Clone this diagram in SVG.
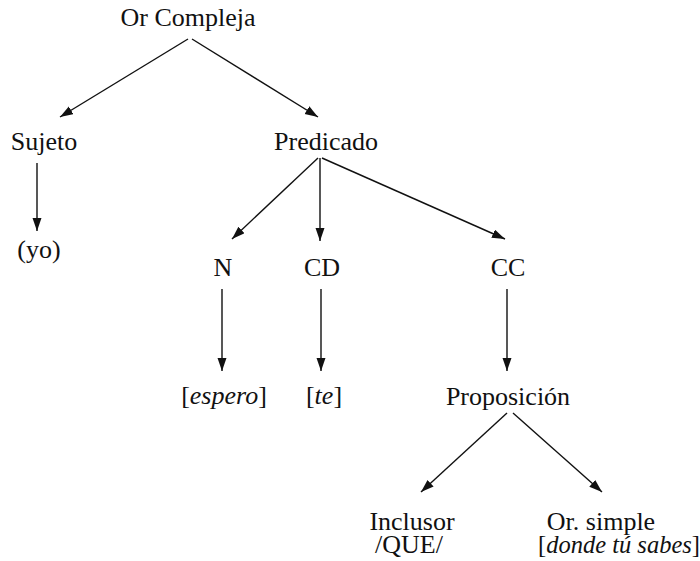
<svg xmlns="http://www.w3.org/2000/svg" width="700" height="561" viewBox="0 0 700 561">
  <style>
    text { font-family: "Liberation Serif", "Times New Roman", serif; font-size: 26px; fill: #111; text-anchor: middle; }
    .it { font-style: italic; }
    .edge { stroke: #111; stroke-width: 1.4; fill: none; marker-end: url(#arrow); }
  </style>
  <defs>
    <marker id="arrow" markerUnits="userSpaceOnUse" markerWidth="14" markerHeight="10" refX="13" refY="4.5" orient="auto">
      <path d="M0,0 L13,4.5 L0,9 z" fill="#111"/>
    </marker>
  </defs>
  <rect width="700" height="561" fill="#fff"/>

  <g id="connectors">
    <line class="edge" x1="188" y1="39" x2="60" y2="117"/>
    <line class="edge" x1="192" y1="39" x2="318" y2="117"/>
    <line class="edge" x1="37" y1="163" x2="37" y2="231"/>
    <line class="edge" x1="318" y1="158" x2="232" y2="239"/>
    <line class="edge" x1="320" y1="158" x2="320" y2="241"/>
    <line class="edge" x1="322" y1="158" x2="505" y2="239"/>
    <line class="edge" x1="222" y1="289" x2="222" y2="371"/>
    <line class="edge" x1="321" y1="289" x2="321" y2="371"/>
    <line class="edge" x1="507" y1="289" x2="507" y2="371"/>
    <line class="edge" x1="507" y1="413" x2="421" y2="492"/>
    <line class="edge" x1="513" y1="413" x2="602" y2="492"/>
  </g>

  <g id="or-compleja"><text x="188" y="26">Or Compleja</text></g>
  <g id="sujeto"><text x="44" y="150">Sujeto</text></g>
  <g id="predicado"><text x="326" y="150">Predicado</text></g>
  <g id="yo"><text x="39" y="258">(yo)</text></g>
  <g id="n"><text x="223" y="276">N</text></g>
  <g id="cd"><text x="322" y="276">CD</text></g>
  <g id="cc"><text x="508" y="276">CC</text></g>
  <g id="espero"><text x="224" y="404">[<tspan class="it">espero</tspan>]</text></g>
  <g id="te"><text x="324" y="404">[<tspan class="it">te</tspan>]</text></g>
  <g id="proposicion"><text x="508" y="405">Proposición</text></g>
  <g id="inclusor">
    <text><tspan x="412" y="530">Inclusor</tspan><tspan x="409" y="553">/QUE/</tspan></text>
  </g>
  <g id="or-simple">
    <text><tspan x="601" y="530">Or. simple</tspan><tspan x="619" y="553" style="font-size:24.5px">[<tspan class="it">donde tú sabes</tspan>]</tspan></text>
  </g>
</svg>
